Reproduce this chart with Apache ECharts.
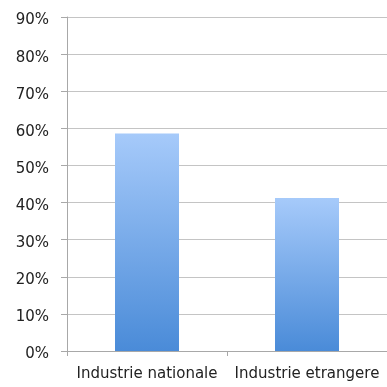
<!DOCTYPE html>
<html lang="fr">
  <head>
    <meta charset="UTF-8" />
    <title>Industrie nationale vs etrangere</title>
    <script src="https://cdnjs.cloudflare.com/ajax/libs/echarts/6.0.0/echarts.min.js"></script>
    <style>
      * {
        margin: 0;
        padding: 0;
      }
      body {
        background: #fff;
      }
      #chart {
        width: 387px;
        height: 387px;
      }
    </style>
  </head>
  <body>
    <div id="chart"></div>
    <script>
      const categories = ["Industrie nationale", "Industrie etrangere"];
      const values = [58.6, 41.2];
      const yTicks = [0, 10, 20, 30, 40, 50, 60, 70, 80, 90];

      const myChart = echarts.init(document.getElementById("chart"));

      const options = {
        animation: false,
        textStyle: { fontFamily: "DejaVu Sans" },
        grid: {
          left: 67,
          right: -8,
          top: 17,
          bottom: 36,
          containLabel: false,
        },
        xAxis: {
          type: "category",
          data: categories,
          axisLine: { lineStyle: { color: "#a8a8a8", width: 1 } },
          axisTick: { show: true, length: 5, lineStyle: { color: "#a8a8a8" } },
          axisLabel: {
            color: "#222",
            fontSize: 15,
            margin: 16,
            interval: 0,
          },
        },
        yAxis: {
          type: "value",
          min: yTicks[0],
          max: yTicks[yTicks.length - 1],
          interval: 10,
          axisLine: { show: true, lineStyle: { color: "#a8a8a8", width: 1 } },
          axisTick: { show: true, length: 6, lineStyle: { color: "#a8a8a8" } },
          axisLabel: {
            color: "#222",
            fontSize: 15,
            margin: 18,
            verticalAlign: "top",
            lineHeight: 7,
            formatter: "{value}%",
          },
          splitLine: { lineStyle: { color: "#c4c4c4", width: 1 } },
        },
        series: [
          {
            type: "bar",
            data: values,
            barWidth: 64,
            itemStyle: {
              // clair en haut, plus foncé en bas
              color: new echarts.graphic.LinearGradient(0, 0, 0, 1, [
                { offset: 0, color: "#a6cafa" },
                { offset: 1, color: "#4a8bd8" },
              ]),
            },
          },
        ],
      };
      myChart.setOption(options);
    </script>
  </body>
</html>
